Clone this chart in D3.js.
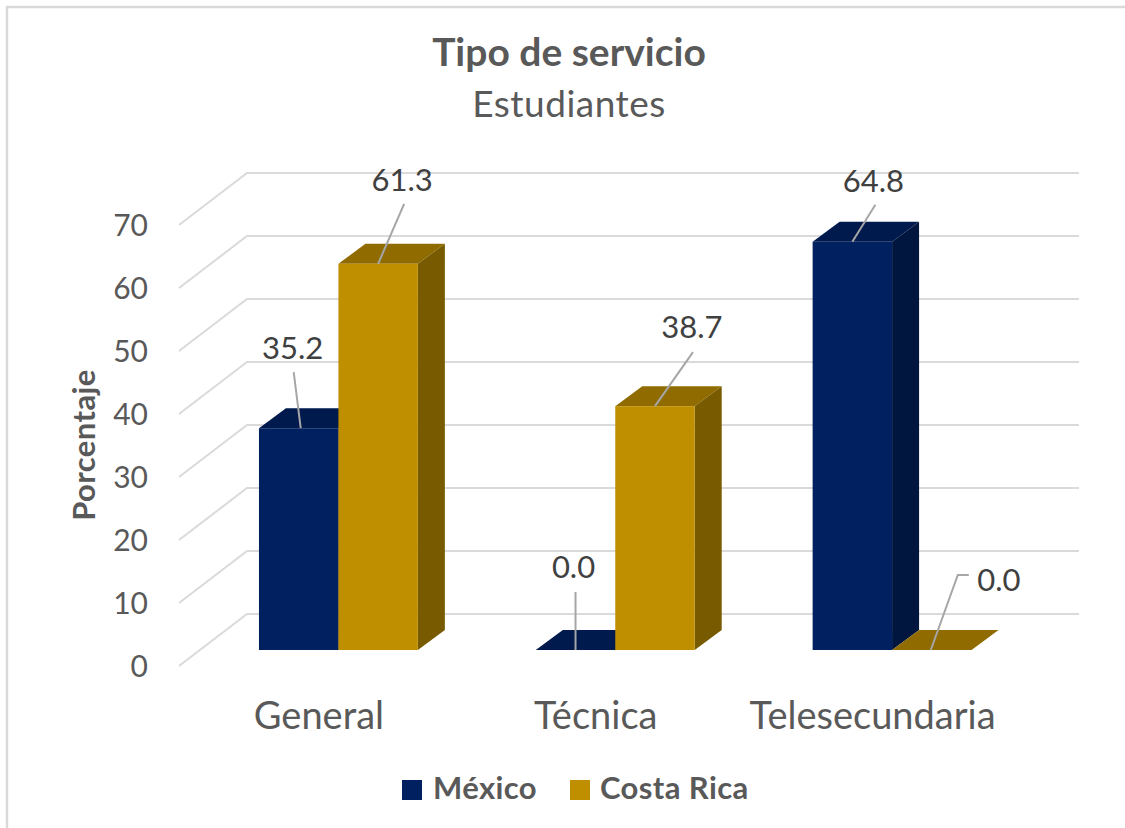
<!DOCTYPE html>
<html lang="es">
<head>
<meta charset="utf-8">
<script src="https://cdn.jsdelivr.net/npm/d3@7"></script>
<style>
html,body{margin:0;padding:0;background:#fff;}
svg{display:block;}
text{font-family:Lato,"Open Sans",sans-serif;}
</style>
</head>
<body>
<div id="chart"></div>
<script>
const categories = ["General", "Técnica", "Telesecundaria"];
const seriesNames = ["México", "Costa Rica"];
const mexico = [35.2, 0.0, 64.8];
const costaRica = [61.3, 38.7, 0.0];
const yTicks = [0, 10, 20, 30, 40, 50, 60, 70];
const titleText = "Tipo de servicio";
const subtitleText = "Estudiantes";
const yAxisTitle = "Porcentaje";
const frontColors = ["#002060", "#BF8F00"];
const topColors = ["#001A4D", "#8F6B00"];
const sideColors = ["#00163F", "#785A00"];
// label placement relative to each bar's top-centre: [leader dx, leader dy, label dx, label dy]
const labelOffsets = [
  [[2, 0, -5, -56, -6, -80], [0, 0, 26, -60, 24, -84]],
  [[0, 0, 0, -58, -2, -83], [0, 0, 38, -54, 37, -79]],
  [[0, 0, 23, -37, 21, -61], [-1, 0, 26, -75, 67, -70]]
];

const W = 1125, H = 828;
const depthX = 27, depthY = -20;
const wallBackX = 47, wallBackY = -36, wallFrontX = -21, wallFrontY = 16;

const svg = d3.select("#chart").append("svg").attr("width", W).attr("height", H);

// frame
svg.append("path").attr("d", d3.line()([[7, H], [7, 7], [W, 7]]))
  .attr("fill", "none").attr("stroke", "#D9D9D9").attr("stroke-width", 2.4);

const y = d3.scaleLinear().domain([0, 70]).range([650, 209]);
const x0 = d3.scaleBand().domain(categories).range([200, 1030.5]).paddingInner(118 / 277).paddingOuter(59 / 277);
const x1 = d3.scaleBand().domain(seriesNames).range([0, x0.bandwidth()]);
const valuesBySeries = [mexico, costaRica];

// gridlines on walls
const xStart = x0.range()[0], xEnd = x0.range()[1];
const grid = svg.append("g").attr("fill", "none").attr("stroke", "#DADADA").attr("stroke-width", 2);
grid.selectAll("path").data(yTicks).join("path")
  .attr("d", v => d3.line()([
    [xStart + wallFrontX, y(v) + wallFrontY],
    [xStart + wallBackX, y(v) + wallBackY],
    [xEnd + wallBackX + 1.5, y(v) + wallBackY]
  ]));

// y tick labels
svg.append("g").attr("font-size", 30).attr("fill", "#595959").attr("text-anchor", "end")
  .selectAll("text").data(yTicks).join("text")
  .attr("x", 148).attr("y", v => y(v) + wallFrontY).attr("dy", "0.35em")
  .text(d => d);

// bars
const bars = svg.append("g");
categories.forEach((c, ci) => {
  seriesNames.forEach((s, si) => {
    const v = valuesBySeries[si][ci];
    const xa = x0(c) + x1(s), w = x1.bandwidth(), yt = y(v), yb = y(0);
    const g = bars.append("g");
    g.append("path").attr("fill", topColors[si])
      .attr("d", d3.line()([[xa, yt], [xa + depthX, yt + depthY], [xa + w + depthX, yt + depthY], [xa + w, yt]]) + "Z");
    if (v > 0) {
      g.append("path").attr("fill", sideColors[si])
        .attr("d", d3.line()([[xa + w, yt], [xa + w + depthX, yt + depthY], [xa + w + depthX, yb + depthY], [xa + w, yb]]) + "Z");
      g.append("rect").attr("x", xa).attr("y", yt).attr("width", w).attr("height", yb - yt)
        .attr("fill", frontColors[si]);
    }
  });
});

// leaders and data labels
const labels = svg.append("g");
categories.forEach((c, ci) => {
  seriesNames.forEach((s, si) => {
    const v = valuesBySeries[si][ci];
    const cx = x0(c) + x1(s) + x1.bandwidth() / 2, cy = y(v);
    const o = labelOffsets[ci][si];
    const pts = [[cx + o[0], cy + o[1]], [cx + o[2], cy + o[3]]];
    if (ci === 2 && si === 1) pts.push([cx + o[2] + 11, cy + o[3]]);
    labels.append("path").attr("d", d3.line()(pts)).attr("fill", "none")
      .attr("stroke", "#A6A6A6").attr("stroke-width", 2);
    labels.append("text").attr("x", cx + o[4]).attr("y", cy + o[5]).attr("dy", "0.35em")
      .attr("text-anchor", "middle").attr("font-size", 31).attr("fill", "#404040")
      .text(v.toFixed(1));
  });
});

// x labels
svg.append("g").attr("font-size", 38).attr("fill", "#595959").attr("text-anchor", "middle")
  .selectAll("text").data(categories).join("text")
  .attr("x", d => x0(d) + x0.bandwidth() / 2 - 19.5).attr("y", 729)
  .text(d => d);

// titles
svg.append("text").attr("x", 569).attr("y", 66).attr("text-anchor", "middle")
  .attr("font-size", 39).attr("font-weight", 700).attr("fill", "#595959").text(titleText);
svg.append("text").attr("x", 569).attr("y", 117).attr("text-anchor", "middle")
  .attr("font-size", 37).attr("letter-spacing", 0.5).attr("fill", "#595959").text(subtitleText);

// y axis title
svg.append("text").attr("transform", "translate(95,445) rotate(-90)").attr("text-anchor", "middle")
  .attr("font-size", 31).attr("letter-spacing", 0.4).attr("font-weight", 700).attr("fill", "#595959").text(yAxisTitle);

// legend
const legendX = [402, 570], legendTextX = [433, 600];
const legend = svg.append("g");
seriesNames.forEach((s, i) => {
  legend.append("rect").attr("x", legendX[i]).attr("y", 780).attr("width", 20).attr("height", 20).attr("fill", frontColors[i]);
  legend.append("text").attr("x", legendTextX[i]).attr("y", 799).attr("font-size", 31).attr("letter-spacing", 0.4).attr("font-weight", 700)
    .attr("fill", "#595959").text(s);
});
</script>
</body>
</html>
